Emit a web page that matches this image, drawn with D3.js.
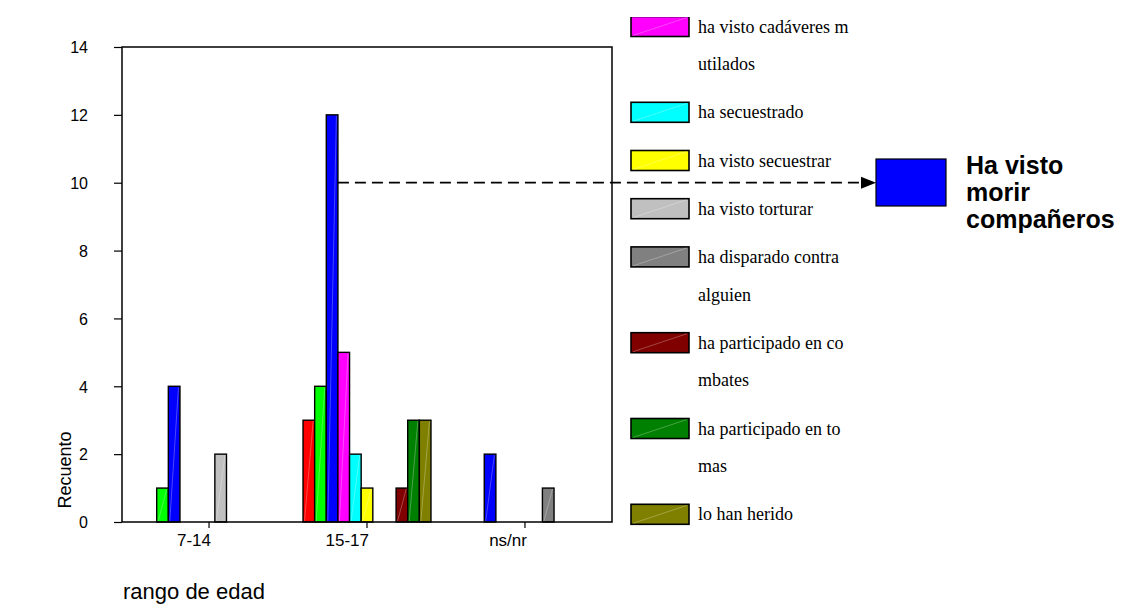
<!DOCTYPE html>
<html>
<head>
<meta charset="utf-8">
<script src="https://cdn.jsdelivr.net/npm/d3@7"></script>
<style>
  html, body { margin: 0; padding: 0; background: #fff; }
  svg { display: block; }
</style>
</head>
<body>
<svg id="chart" width="1128" height="605"></svg>
<script>
// ---- Data ----
const categories = ["7-14", "15-17", "ns/nr"];
const seriesColors = ["#FF0000", "#00FF00", "#0000FF", "#FF00FF", "#00FFFF", "#FFFF00",
                      "#C0C0C0", "#808080", "#800000", "#008000", "#808000"];
// values per series, one per category
const vRed     = [0, 3, 0];
const vLime    = [1, 4, 0];
const vBlue    = [4, 12, 2];
const vMagenta = [0, 5, 0];
const vCyan    = [0, 2, 0];
const vYellow  = [0, 1, 0];
const vLtGray  = [2, 0, 0];
const vGray    = [0, 0, 1];
const vDkRed   = [0, 1, 0];
const vGreen   = [0, 3, 0];
const vOlive   = [0, 3, 0];
const seriesValues = [vRed, vLime, vBlue, vMagenta, vCyan, vYellow, vLtGray, vGray, vDkRed, vGreen, vOlive];
const yTicks = [0, 2, 4, 6, 8, 10, 12, 14];
// visible legend entries (series index, text lines)
const legendSeries = [3, 4, 5, 6, 7, 8, 9, 10];
const legendLines = [
  ["ha visto cadáveres m", "utilados"],
  ["ha secuestrado"],
  ["ha visto secuestrar"],
  ["ha visto torturar"],
  ["ha disparado contra", "alguien"],
  ["ha participado en co", "mbates"],
  ["ha participado en to", "mas"],
  ["lo han herido"]
];
const yLabel = "Recuento";
const xLabel = "rango de edad";
const calloutLines = ["Ha visto", "morir", "compañeros"];
const calloutSeries = 2;
const calloutValue = 10;

(function () {
// ---- Layout ----
const svg = d3.select("#chart");
const pLeft = 122, pRight = 612, pTop = 47, pBottom = 522;

const x = d3.scaleBand().domain(categories).range([pLeft, pRight])
  .paddingInner(0.19).paddingOuter(0.146);
const xs = d3.scaleBand().domain(d3.range(seriesColors.length)).range([0, x.bandwidth()]);
const y = d3.scaleLinear().domain([0, 14]).range([pBottom, pTop]);

// bars
const barData = [];
seriesValues.forEach((vals, si) => {
  vals.forEach((v, ci) => { if (v > 0) barData.push({ si, cat: categories[ci], v }); });
});
const bars = svg.append("g");
bars.selectAll("rect").data(barData).join("rect")
  .attr("x", d => x(d.cat) + xs(d.si))
  .attr("y", d => y(d.v))
  .attr("width", xs.bandwidth())
  .attr("height", d => y(0) - y(d.v))
  .attr("fill", d => seriesColors[d.si])
  .attr("stroke", "#000").attr("stroke-width", 1.4);
bars.selectAll("line").data(barData).join("line")
  .attr("x1", d => x(d.cat) + xs(d.si) + 1.5)
  .attr("y1", d => y(0) - 1)
  .attr("x2", d => x(d.cat) + xs(d.si) + xs.bandwidth() - 1.5)
  .attr("y2", d => y(d.v) + 1)
  .attr("stroke", "rgba(255,255,255,0.35)").attr("stroke-width", 0.8);

// frame
svg.append("rect").attr("x", pLeft).attr("y", pTop)
  .attr("width", pRight - pLeft).attr("height", pBottom - pTop)
  .attr("fill", "none").attr("stroke", "#000").attr("stroke-width", 1.5);

// y axis
const yAxis = svg.append("g").attr("transform", `translate(${pLeft},0)`)
  .call(d3.axisLeft(y).tickValues(yTicks).tickSize(8).tickPadding(26).tickFormat(d3.format("d")));
yAxis.select(".domain").remove();
yAxis.selectAll("line").attr("stroke", "#000").attr("stroke-width", 1.2);
yAxis.selectAll("text").attr("font-family", "Arial, 'Liberation Sans', sans-serif")
  .attr("font-size", 16).attr("fill", "#000").attr("dy", "0.36em");

// x axis
const xAxis = svg.append("g").attr("transform", `translate(0,${pBottom})`)
  .call(d3.axisBottom(x).tickSize(6).tickSizeOuter(0));
xAxis.select(".domain").remove();
xAxis.selectAll("line").attr("stroke", "#000").attr("stroke-width", 1.2);
xAxis.selectAll("text").attr("font-family", "Arial, 'Liberation Sans', sans-serif")
  .attr("font-size", 17).attr("fill", "#000")
  .attr("text-anchor", "end").attr("x", 2).attr("y", 24).attr("dy", 0);

// axis titles
svg.append("text").attr("transform", "translate(71,470) rotate(-90)")
  .attr("text-anchor", "middle")
  .attr("font-family", "Arial, 'Liberation Sans', sans-serif").attr("font-size", 18)
  .text(yLabel);
svg.append("text").attr("x", 123).attr("y", 599)
  .attr("font-family", "Arial, 'Liberation Sans', sans-serif").attr("font-size", 22)
  .text(xLabel);

// legend
const defs = svg.append("defs");
defs.append("clipPath").attr("id", "legclip").append("rect")
  .attr("x", 600).attr("y", 17).attr("width", 300).attr("height", 600);
const leg = svg.append("g").attr("clip-path", "url(#legclip)");
let cy = 26.5;
legendSeries.forEach((si, i) => {
  const g = leg.append("g");
  g.append("rect").attr("x", 631).attr("y", cy - 10).attr("width", 58).attr("height", 20)
    .attr("fill", seriesColors[si]).attr("stroke", "#000").attr("stroke-width", 1.6);
  g.append("line").attr("x1", 633).attr("y1", cy + 9).attr("x2", 687).attr("y2", cy - 9)
    .attr("stroke", "rgba(255,255,255,0.35)").attr("stroke-width", 0.8);
  legendLines[i].forEach((t, k) => {
    g.append("text").attr("x", 698).attr("y", cy + k * 37.6 + 6)
      .attr("font-family", "'Times New Roman', 'Liberation Serif', serif")
      .attr("font-size", 18).attr("fill", "#000").text(t);
  });
  cy += (legendLines[i].length - 1) * 37.6 + 48.2;
});

// callout
const ay = y(calloutValue);
const ax0 = x(categories[1]) + xs(calloutSeries) + xs.bandwidth();
const boxX = 876, boxY = 159, boxW = 70, boxH = 47;
svg.append("line").attr("x1", ax0).attr("y1", ay).attr("x2", boxX - 14).attr("y2", ay)
  .attr("stroke", "#000").attr("stroke-width", 1.8).attr("stroke-dasharray", "11,6");
svg.append("path")
  .attr("d", `M${boxX - 15},${ay - 6} L${boxX},${ay} L${boxX - 15},${ay + 6} Z`)
  .attr("fill", "#000");
svg.append("rect").attr("x", boxX).attr("y", boxY).attr("width", boxW).attr("height", boxH)
  .attr("fill", seriesColors[calloutSeries]).attr("stroke", "#000").attr("stroke-width", 1.2);
calloutLines.forEach((t, k) => {
  svg.append("text").attr("x", 966).attr("y", 173.5 + k * 27)
    .attr("font-family", "Arial, 'Liberation Sans', sans-serif")
    .attr("font-weight", "bold").attr("font-size", 25).attr("fill", "#000").text(t);
});
})();
</script>
</body>
</html>
